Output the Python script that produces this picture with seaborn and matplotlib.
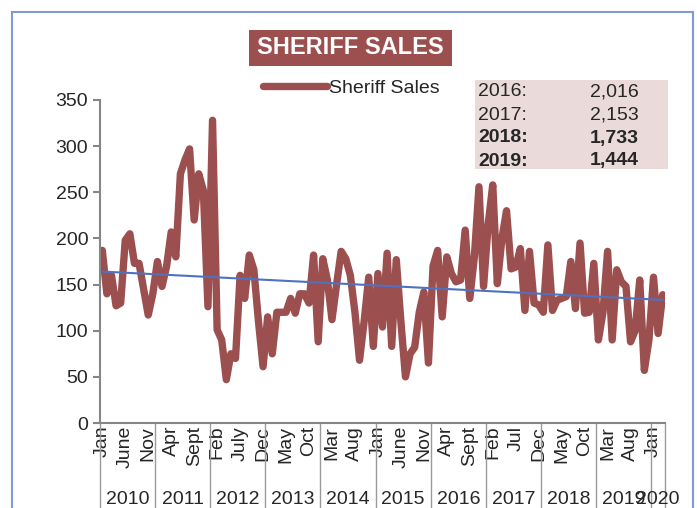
import numpy as np
import pandas as pd
import matplotlib.pyplot as plt
import matplotlib.transforms as mtransforms
from matplotlib.patches import Rectangle
import seaborn as sns

# monthly sheriff sales, Jan 2010 .. Mar 2020
sales = [187, 140, 160, 127, 130, 198, 205, 173, 173, 145, 117, 140,
         175, 148, 170, 207, 180, 270, 285, 297, 220, 270, 252, 126,
         328, 101, 90, 47, 75, 70, 160, 135, 182, 166, 110, 61,
         115, 75, 120, 120, 120, 135, 119, 140, 140, 130, 182, 88,
         178, 155, 112, 150, 186, 178, 160, 120, 68, 110, 158, 83,
         162, 104, 184, 83, 177, 110, 50, 75, 82, 120, 142, 65,
         170, 187, 115, 180, 162, 153, 155, 209, 135, 180, 256, 148,
         215, 258, 151, 200, 230, 167, 169, 189, 122, 186, 130, 128,
         120, 193, 122, 133, 135, 137, 175, 124, 195, 119, 120, 173,
         90, 120, 186, 90, 166, 153, 148, 88, 100, 155, 57, 90,
         158, 97, 139]

month_labels = ['Jan', 'June', 'Nov', 'Apr', 'Sept', 'Feb', 'July', 'Dec', 'May',
                'Oct', 'Mar', 'Aug', 'Jan', 'June', 'Nov', 'Apr', 'Sept', 'Feb',
                'Jul', 'Dec', 'May', 'Oct', 'Mar', 'Aug', 'Jan']
years = ['2010', '2011', '2012', '2013', '2014', '2015', '2016', '2017',
         '2018', '2019', '2020']
box_years = ['2016:', '2017:', '2018:', '2019:']
box_totals = ['2,016', '2,153', '1,733', '1,444']

df = pd.DataFrame({'month': np.arange(len(sales)), 'sales': sales})

sns.set_style('white')
plt.rcParams['font.family'] = ['Liberation Sans', 'DejaVu Sans']

red = '#9C4F4F'
blue = '#4F72C0'
gray = '#868686'
W, H = 697, 508

fig = plt.figure(figsize=(W / 100, H / 100), dpi=100)
ax = fig.add_axes([100 / W, 1 - 423 / H, 565 / W, 323 / H])

sns.lineplot(data=df, x='month', y='sales', color=red, lw=5.3, ax=ax,
             label='Sheriff Sales', solid_joinstyle='round', solid_capstyle='round')
sns.regplot(data=df, x='month', y='sales', scatter=False, ci=None, ax=ax,
            color=blue, line_kws={'lw': 1.5}, label='_nolegend_')

ax.set_xlim(-0.5, len(sales) - 0.5)
ax.set_ylim(0, 350)
ax.set_yticks(range(0, 351, 50))
ax.set_xticks(range(0, len(month_labels) * 5, 5))
ax.set_xticklabels(month_labels, rotation=90)
ax.set_xlabel('')
ax.set_ylabel('')
ax.tick_params(axis='x', length=0, pad=2, labelsize=14)
ax.tick_params(axis='y', length=5, width=1.5, color=gray, labelsize=14, left=True)
for s in ['top', 'right']:
    ax.spines[s].set_visible(False)
for s in ['left', 'bottom']:
    ax.spines[s].set_color(gray)
    ax.spines[s].set_linewidth(1.5)

# year groups under the month labels
trans = mtransforms.blended_transform_factory(ax.transData, ax.transAxes)
bounds = [12 * k - 0.5 for k in range(len(years))] + [len(sales) - 0.5]
for b in bounds:
    ax.plot([b, b], [0, -0.27], transform=trans, clip_on=False, color='#9a9a9a', lw=1)
for k, yr in enumerate(years):
    mid = (bounds[k] + bounds[k + 1]) / 2
    ax.text(mid, -0.236, yr, transform=trans, ha='center', va='center', fontsize=14)

ax.legend(loc='center', bbox_to_anchor=(351 / W, 1 - 88 / H), bbox_transform=fig.transFigure,
          frameon=False, fontsize=14, handlelength=3.3, handletextpad=0.1)

# title
fig.add_artist(Rectangle((249 / W, 1 - 66 / H), 203 / W, 36 / H, transform=fig.transFigure,
                         facecolor=red, edgecolor='none'))
fig.text(350.5 / W, 1 - 48 / H, 'SHERIFF SALES', color='white', fontsize=17,
         fontweight='bold', ha='center', va='center')

# yearly totals box
fig.add_artist(Rectangle((475 / W, 1 - 169 / H), 193 / W, 89 / H, transform=fig.transFigure,
                         facecolor='#EBDADA', edgecolor='none'))
for k, (yr, tot) in enumerate(zip(box_years, box_totals)):
    y = 1 - (92 + 23 * k) / H
    w = 'bold' if k >= 2 else 'normal'
    fig.text(478 / W, y, yr, fontsize=14, fontweight=w, ha='left', va='center')
    fig.text(639 / W, y, tot, fontsize=14, fontweight=w, ha='right', va='center')

# outer chart frame
fig.add_artist(Rectangle((12 / W, -0.05), 681 / W, 1.05 - 12 / H, transform=fig.transFigure,
                         facecolor='none', edgecolor='#7E9BD6', lw=1.5))

fig.savefig('out.png', dpi=100)
